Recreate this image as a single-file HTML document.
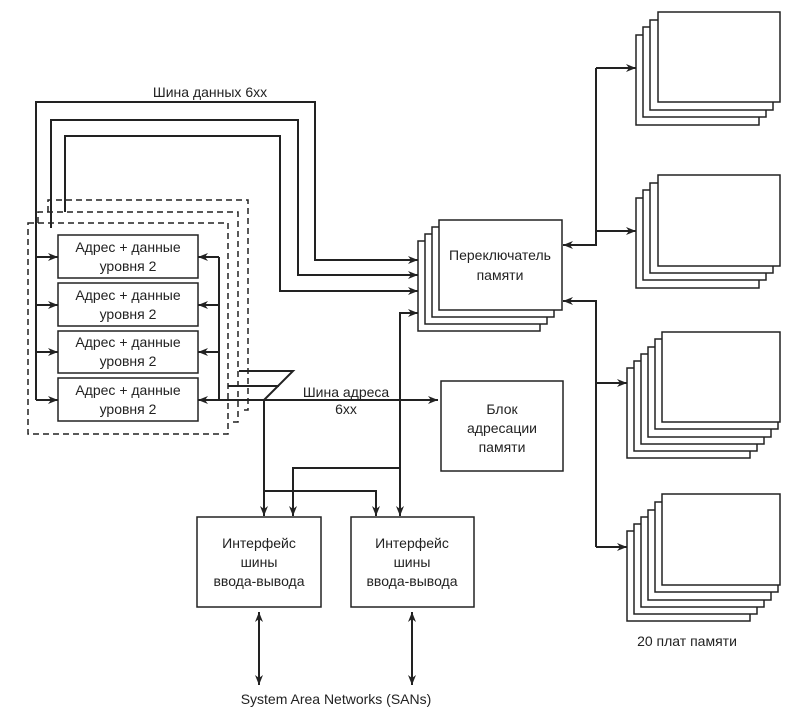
<!DOCTYPE html>
<html><head><meta charset="utf-8"><style>
html,body{margin:0;padding:0;background:#fff;}
svg text{font-family:"Liberation Sans",sans-serif;font-size:14px;fill:#222;}
</style></head><body>
<svg width="800" height="715" viewBox="0 0 800 715" xmlns="http://www.w3.org/2000/svg">
<defs>
<marker id="a" viewBox="0 0 10 10" refX="10" refY="5" markerWidth="11" markerHeight="10" orient="auto-start-reverse" markerUnits="userSpaceOnUse"><path d="M0,1 L10,5 L0,9 L3,5 z" fill="#222"/></marker>
</defs>
<g fill="none" stroke="#222" stroke-width="2">
<polyline points="36,400 36,102 315,102 315,260 418,260" marker-end="url(#a)"/>
<polyline points="51,228 51,120 298,120 298,275 418,275" marker-end="url(#a)"/>
<polyline points="65,212 65,136 280,136 280,291 418,291" marker-end="url(#a)"/>
<polyline points="418,313 400,313 400,516" marker-end="url(#a)" marker-start="url(#a)"/>
<line x1="36" y1="257" x2="58" y2="257" marker-end="url(#a)"/>
<line x1="36" y1="305" x2="58" y2="305" marker-end="url(#a)"/>
<line x1="36" y1="352" x2="58" y2="352" marker-end="url(#a)"/>
<line x1="36" y1="400" x2="58" y2="400" marker-end="url(#a)"/>
<line x1="219" y1="257" x2="219" y2="400"/>
<line x1="219" y1="257" x2="198" y2="257" marker-end="url(#a)"/>
<line x1="219" y1="305" x2="198" y2="305" marker-end="url(#a)"/>
<line x1="219" y1="352" x2="198" y2="352" marker-end="url(#a)"/>
<line x1="264" y1="400" x2="198" y2="400" marker-end="url(#a)"/>
<line x1="264" y1="400" x2="438" y2="400" marker-end="url(#a)"/>
<polyline points="239,371 293,371 264,400"/>
<line x1="228" y1="386" x2="279" y2="386"/>
<line x1="264" y1="400" x2="264" y2="516" marker-end="url(#a)"/>
<polyline points="264,491 376,491 376,516" marker-end="url(#a)"/>
<polyline points="400,468 293,468 293,516" marker-end="url(#a)"/>
</g>
<g fill="none" stroke="#222" stroke-width="1.5" stroke-dasharray="6,4">
<rect x="28" y="223" width="200" height="211"/>
<polyline points="38,223 38,212 238,212 238,422 232,422"/>
<polyline points="48,212 48,200 248,200 248,410 242,410"/>
</g>
<g fill="#fff" stroke="#222" stroke-width="1.5">
<rect x="58" y="235" width="140" height="43"/>
<rect x="58" y="283" width="140" height="43"/>
<rect x="58" y="331" width="140" height="42"/>
<rect x="58" y="378" width="140" height="43"/>
</g>
<g text-anchor="middle">
<text x="128" y="252">Адрес + данные</text><text x="128" y="271">уровня 2</text>
<text x="128" y="300">Адрес + данные</text><text x="128" y="319">уровня 2</text>
<text x="128" y="347">Адрес + данные</text><text x="128" y="366">уровня 2</text>
<text x="128" y="395">Адрес + данные</text><text x="128" y="414">уровня 2</text>
<text x="210" y="97">Шина данных 6xx</text>
<text x="346" y="397">Шина адреса</text><text x="346" y="414">6xx</text>
</g>
<g fill="#fff" stroke="#222" stroke-width="1.5">
<rect x="418" y="241" width="122" height="90"/>
<rect x="425" y="234" width="122" height="90"/>
<rect x="432" y="227" width="122" height="90"/>
<rect x="439" y="220" width="123" height="90"/>
</g>
<text x="500" y="260" text-anchor="middle">Переключатель</text>
<text x="500" y="280" text-anchor="middle">памяти</text>
<g fill="none" stroke="#222" stroke-width="2">
<polyline points="596,68 596,245 563,245" marker-end="url(#a)"/>
<line x1="596" y1="68" x2="636" y2="68" marker-end="url(#a)"/>
<line x1="596" y1="231" x2="636" y2="231" marker-end="url(#a)"/>
<polyline points="596,547 596,301 563,301" marker-end="url(#a)"/>
<line x1="596" y1="383" x2="627" y2="383" marker-end="url(#a)"/>
<line x1="596" y1="547" x2="627" y2="547" marker-end="url(#a)"/>
<line x1="259" y1="612" x2="259" y2="685" marker-start="url(#a)" marker-end="url(#a)"/>
<line x1="412" y1="612" x2="412" y2="685" marker-start="url(#a)" marker-end="url(#a)"/>
</g>
<g fill="#fff" stroke="#222" stroke-width="1.5">
<rect x="636" y="35" width="123" height="90"/><rect x="643" y="27" width="123" height="90"/><rect x="650" y="20" width="123" height="90"/><rect x="658" y="12" width="122" height="90"/>
<rect x="636" y="198" width="123" height="90"/><rect x="643" y="190" width="123" height="90"/><rect x="650" y="183" width="123" height="90"/><rect x="658" y="175" width="122" height="91"/>
<rect x="627" y="368" width="123" height="90"/><rect x="634" y="361" width="123" height="90"/><rect x="641" y="354" width="123" height="90"/><rect x="648" y="347" width="123" height="90"/><rect x="655" y="339" width="123" height="90"/><rect x="662" y="332" width="118" height="90"/>
<rect x="627" y="531" width="123" height="90"/><rect x="634" y="524" width="123" height="90"/><rect x="641" y="517" width="123" height="90"/><rect x="648" y="510" width="123" height="90"/><rect x="655" y="502" width="123" height="90"/><rect x="662" y="494" width="118" height="91"/>
<rect x="441" y="381" width="122" height="90"/>
<rect x="197" y="517" width="124" height="90"/>
<rect x="351" y="517" width="123" height="90"/>
</g>
<g text-anchor="middle">
<text x="502" y="414">Блок</text><text x="502" y="433">адресации</text><text x="502" y="452">памяти</text>
<text x="259" y="548">Интерфейс</text><text x="259" y="567">шины</text><text x="259" y="586">ввода-вывода</text>
<text x="412" y="548">Интерфейс</text><text x="412" y="567">шины</text><text x="412" y="586">ввода-вывода</text>
<text x="336" y="704">System Area Networks (SANs)</text>
<text x="687" y="646">20 плат памяти</text>
</g>
</svg>
</body></html>
